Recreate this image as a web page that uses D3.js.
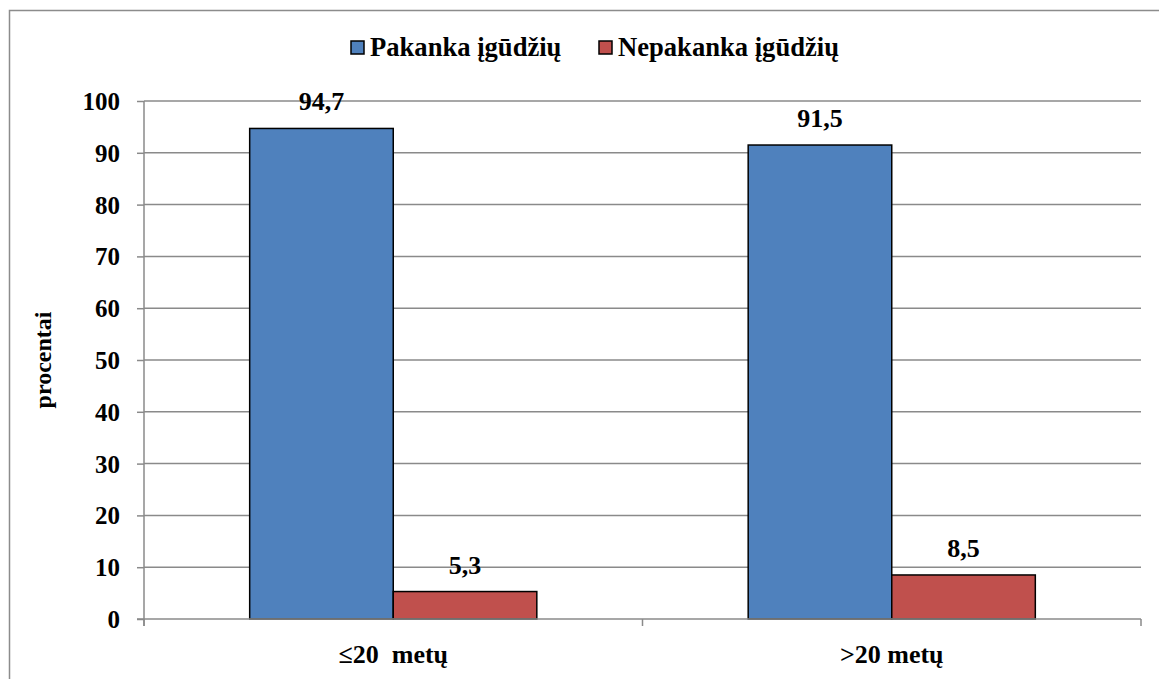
<!DOCTYPE html>
<html>
<head>
<meta charset="utf-8">
<script src="https://cdn.jsdelivr.net/npm/d3@7"></script>
<style>
  html, body { margin: 0; padding: 0; background: #fff; }
  svg { display: block; }
</style>
</head>
<body>
<svg id="chart" width="1159" height="679"></svg>
<script>
// Age groups and the share of respondents with / without sufficient skills
const categories = ["≤20  metų", ">20 metų"];
const seriesNames = ["Pakanka įgūdžių", "Nepakanka įgūdžių"];
const pakanka = [94.7, 91.5];
const nepakanka = [5.3, 8.5];
const yTicks = [0, 10, 20, 30, 40, 50, 60, 70, 80, 90, 100];
const colors = ["#4F81BD", "#C0504D"];

const FONT = "Liberation Serif";
const series = [pakanka, nepakanka];
const svg = d3.select("#chart");
const W = 1159, H = 679;
const plot = { left: 144, right: 1141, top: 101, bottom: 619 };

// bold serif text helper
function styleText(sel, size) {
  return sel.attr("font-family", FONT).attr("font-weight", "bold")
    .attr("font-size", size).attr("fill", "#000");
}

// chart frame
svg.append("rect")
  .attr("x", 9.5).attr("y", 10.5)
  .attr("width", W + 20).attr("height", H + 20)
  .attr("fill", "none").attr("stroke", "#8c8c8c").attr("stroke-width", 1.5);

const y = d3.scaleLinear().domain([0, 100]).range([plot.bottom, plot.top]);
const x0 = d3.scaleBand().domain(categories).range([plot.left, plot.right]).padding(0);
const x1 = d3.scaleBand().domain(seriesNames)
  .range([x0.bandwidth() * 0.212, x0.bandwidth() * 0.788]).padding(0);

// horizontal gridlines
svg.append("g").selectAll("line").data(yTicks.filter(t => t > 0)).join("line")
  .attr("x1", plot.left).attr("x2", plot.right)
  .attr("y1", d => y(d)).attr("y2", d => y(d))
  .attr("stroke", "#8a8a8a").attr("stroke-width", 1.5);

// y axis
const yAxis = svg.append("g").attr("transform", `translate(${plot.left},0)`)
  .call(d3.axisLeft(y).tickValues(yTicks).tickSize(7).tickPadding(17).tickFormat(d3.format("d")));
yAxis.select(".domain").remove();
yAxis.append("line").attr("x1", 0).attr("x2", 0).attr("y1", plot.top).attr("y2", plot.bottom + 7)
  .attr("stroke", "#8a8a8a").attr("stroke-width", 1.5);
yAxis.selectAll(".tick line").attr("stroke", "#8a8a8a").attr("stroke-width", 1.5);
styleText(yAxis.selectAll(".tick text"), 25).attr("dy", "0.34em");

// bars
const groups = svg.append("g").selectAll("g").data(categories).join("g")
  .attr("transform", d => `translate(${x0(d)},0)`);

groups.selectAll("rect")
  .data((c, i) => seriesNames.map((s, j) => ({ s, v: series[j][i], j })))
  .join("rect")
  .attr("x", d => x1(d.s)).attr("width", x1.bandwidth())
  .attr("y", d => y(d.v)).attr("height", d => y(0) - y(d.v))
  .attr("fill", d => colors[d.j])
  .attr("stroke", "#000").attr("stroke-width", 1.5);

// value labels
styleText(groups.selectAll("text.val")
  .data((c, i) => seriesNames.map((s, j) => ({ s, v: series[j][i], j })))
  .join("text").attr("class", "val"), 26)
  .attr("x", d => x1(d.s) + x1.bandwidth() / 2)
  .attr("y", d => y(d.v) - 18)
  .attr("text-anchor", "middle")
  .text(d => d3.format(".1f")(d.v).replace(".", ","));

// x axis line and category ticks
const xAxis = svg.append("g").attr("transform", `translate(0,${plot.bottom})`);
xAxis.append("line").attr("x1", plot.left - 7).attr("x2", plot.right)
  .attr("stroke", "#8a8a8a").attr("stroke-width", 1.5);
const bounds = categories.map(c => x0(c)).concat([plot.right]);
xAxis.selectAll("line.tick").data(bounds).join("line").attr("class", "tick")
  .attr("x1", d => d).attr("x2", d => d).attr("y1", 0).attr("y2", 7)
  .attr("stroke", "#8a8a8a").attr("stroke-width", 1.5);
styleText(xAxis.selectAll("text").data(categories).join("text"), 26)
  .attr("x", d => x0(d) + x0.bandwidth() / 2).attr("y", 44)
  .attr("text-anchor", "middle")
  .style("white-space", "pre").attr("xml:space", "preserve")
  .text(d => d);

// y axis title
styleText(svg.append("text"), 24)
  .attr("transform", `translate(51,${(plot.top + plot.bottom) / 2}) rotate(-90)`)
  .attr("text-anchor", "middle")
  .text("procentai");

// legend
const legendItems = [{ x: 351, name: seriesNames[0], c: colors[0] }, { x: 599, name: seriesNames[1], c: colors[1] }];
const lg = svg.append("g").selectAll("g").data(legendItems).join("g")
  .attr("transform", d => `translate(${d.x},41)`);
lg.append("rect").attr("width", 13).attr("height", 13)
  .attr("fill", d => d.c).attr("stroke", "#000").attr("stroke-width", 1.5);
styleText(lg.append("text"), 26.6).attr("x", 19).attr("y", 15).text(d => d.name);
</script>
</body>
</html>
